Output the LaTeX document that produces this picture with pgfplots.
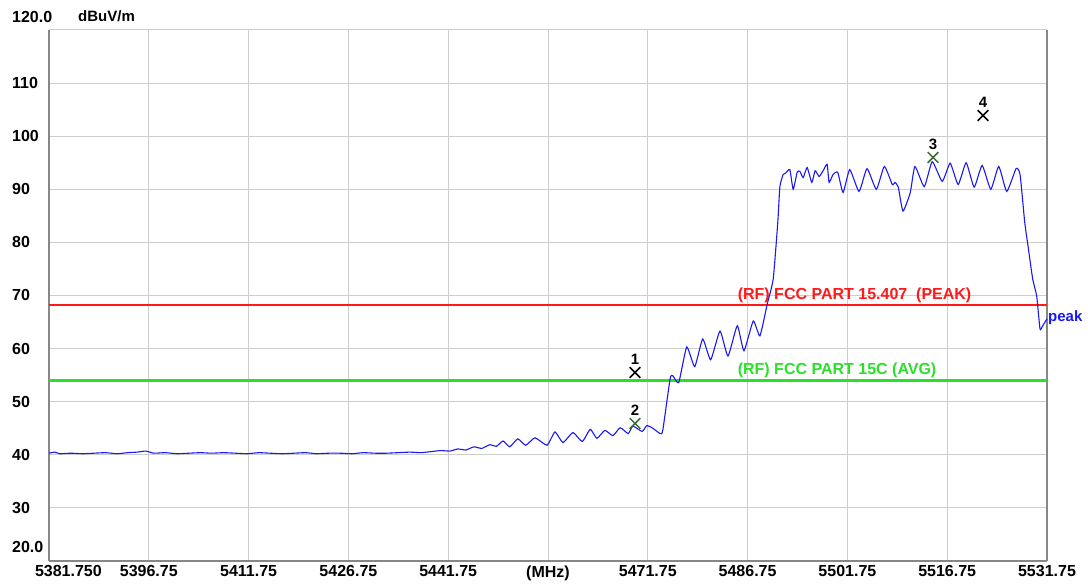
\documentclass[border=0pt]{standalone}
\usepackage{fontspec}
\setmainfont{Liberation Sans}
\usepackage{pgfplots}
\pgfplotsset{compat=1.18}

\definecolor{gridgray}{RGB}{205,205,205}
\definecolor{framegray}{RGB}{135,135,135}
\definecolor{traceblue}{RGB}{25,25,240}
\definecolor{limred}{RGB}{255,25,25}
\definecolor{limgreen}{RGB}{40,225,40}
\definecolor{mkgreen}{RGB}{55,110,45}

\begin{document}
\begin{tikzpicture}
\useasboundingbox (0pt,0pt) rectangle (1088pt,585pt);
\begin{axis}[
  at={(49pt,24pt)}, anchor=south west,
  scale only axis, width=998pt, height=531pt,
  xmin=5381.75, xmax=5531.75, ymin=20, ymax=120,
  xtick={5381.75,5396.75,5411.75,5426.75,5441.75,5456.75,5471.75,5486.75,5501.75,5516.75,5531.75},
  xticklabels={\makebox[0pt][l]{\kern-14pt 5381.750},5396.75,5411.75,5426.75,5441.75,(MHz),5471.75,5486.75,5501.75,5516.75,5531.75},
  ytick={20,30,40,50,60,70,80,90,100,110,120},
  yticklabels={\raisebox{14pt}[\height][\depth]{20.0},30,40,50,60,70,80,90,100,110,\raisebox{13pt}[\height][\depth]{120.0}},
  grid=major,
  major grid style={gridgray, line width=1pt},
  major tick length=0pt,
  axis x line*=bottom, axis y line*=left,
  axis line style={framegray, line width=2pt, -},
  tick label style={font=\bfseries\fontsize{16}{16}\selectfont, text=black},
  xticklabel style={yshift=-1pt, text depth=0pt},
  yticklabel style={anchor=west, xshift=-37pt, inner sep=0pt},
  clip=false,
]
% right frame edge
\draw[framegray, line width=2pt] (rel axis cs:1,0) -- (rel axis cs:1,1);

% limit lines
\addplot[limred, line width=2.5pt] coordinates {(5381.75,68.2) (5531.75,68.2)};
\addplot[limgreen, line width=2.5pt] coordinates {(5381.75,54) (5531.75,54)};

\node[anchor=south west, inner sep=1pt, text=limred, font=\bfseries\fontsize{16}{16}\selectfont]
  at (axis cs:5485.1,68.4) {(RF) FCC PART 15.407\ \ (PEAK)};
\node[anchor=south west, inner sep=1pt, text=limgreen, font=\bfseries\fontsize{16}{16}\selectfont]
  at (axis cs:5485.1,54.3) {(RF) FCC PART 15C (AVG)};

% unit label
\node[anchor=west, inner sep=0pt, font=\bfseries\fontsize{15}{15}\selectfont]
  at (rel axis cs:0,1) [xshift=29pt, yshift=14pt] {dBuV/m};

% measured trace
\addplot[traceblue, line width=1.1pt, smooth, tension=0.3] coordinates {
(5381.75,40.3) (5382.6,40.5) (5383.4,40.2) (5385.0,40.3) (5386.8,40.2) (5388.5,40.3)
(5390.2,40.4) (5392.0,40.2) (5393.6,40.4) (5395.0,40.5) (5396.3,40.7) (5397.5,40.3)
(5399.2,40.4) (5401.0,40.2) (5402.8,40.3) (5404.5,40.4) (5406.2,40.3) (5408.0,40.4)
(5409.8,40.3) (5411.5,40.2) (5413.3,40.4) (5415.0,40.3) (5416.8,40.2) (5418.6,40.3)
(5420.3,40.4) (5422.0,40.2) (5423.8,40.3) (5425.5,40.3) (5427.3,40.2) (5429.0,40.4)
(5430.8,40.3) (5432.5,40.3) (5434.2,40.4) (5436.0,40.5) (5437.7,40.4) (5439.2,40.6)
(5440.6,40.8) (5442.0,40.7) (5443.2,41.1) (5444.4,40.9) (5445.6,41.5) (5446.8,41.2)
(5448.0,41.9) (5449.0,41.6) (5450.0,42.6) (5451.0,41.5) (5452.2,43.0) (5453.4,41.8)
(5454.8,43.2) (5456.6,41.8) (5457.8,44.3) (5459.0,42.3) (5460.5,44.2) (5461.9,42.5)
(5463.1,44.8) (5464.1,43.1) (5465.3,44.6) (5466.5,43.6) (5467.6,45.1) (5468.8,44.0)
(5469.5,45.4) (5470.9,44.4) (5471.6,45.5) (5472.5,45.0) (5473.6,44.0) (5474.0,44.6)
(5475.1,54.3) (5475.5,54.9) (5476.4,53.6) (5477.6,60.3) (5478.8,56.6) (5480.0,61.8)
(5481.2,57.9) (5482.6,63.3) (5483.8,58.6) (5485.2,64.3) (5486.2,59.6) (5487.6,65.2)
(5488.6,62.4) (5489.7,68.4) (5490.6,73.1) (5491.3,84.0) (5491.6,90.5) (5492.1,92.8)
(5492.5,93.1) (5493.1,93.7) (5493.6,90.0) (5494.2,93.2) (5494.6,93.4) (5495.1,92.2)
(5495.7,94.1) (5496.4,91.3) (5496.9,93.5) (5497.5,92.4) (5498.1,93.5) (5498.7,94.7)
(5499.0,91.3) (5499.6,92.8) (5500.3,93.2) (5501.1,89.4) (5502.1,93.7) (5503.5,89.6)
(5504.7,93.9) (5506.1,90.0) (5507.3,94.3) (5508.5,90.9) (5508.9,91.3) (5509.4,90.4)
(5510.1,85.9) (5511.2,89.4) (5511.9,94.3) (5513.3,90.5) (5514.5,95.2) (5516.0,91.5)
(5517.2,94.9) (5518.4,90.9) (5519.6,95.0) (5520.8,90.4) (5522.0,94.5) (5523.3,90.0)
(5524.5,94.3) (5525.7,89.6) (5527.1,93.9) (5527.7,92.8) (5528.4,83.8) (5528.9,79.3)
(5529.6,73.1) (5530.2,69.9) (5530.7,63.7) (5531.1,64.3) (5531.75,65.6)
};

\node[anchor=west, inner sep=1pt, text=traceblue, font=\bfseries\fontsize{15}{15}\selectfont]
  at (axis cs:5531.75,65.8) {peak};

% markers
\pgfplotsset{markerlabels/.style={only marks, mark=x, mark size=7.5pt,
  mark options={line width=1.5pt},
  nodes near coords, point meta=explicit symbolic,
  every node near coord/.append style={text=black, yshift=4pt,
    font=\bfseries\fontsize{15}{15}\selectfont}}}
\addplot[black, markerlabels] coordinates {(5469.83,55.5)[1] (5522.13,103.9)[4]};
\addplot[mkgreen, markerlabels] coordinates {(5469.83,45.9)[2] (5514.62,96.0)[3]};
\end{axis}
\end{tikzpicture}
\end{document}
